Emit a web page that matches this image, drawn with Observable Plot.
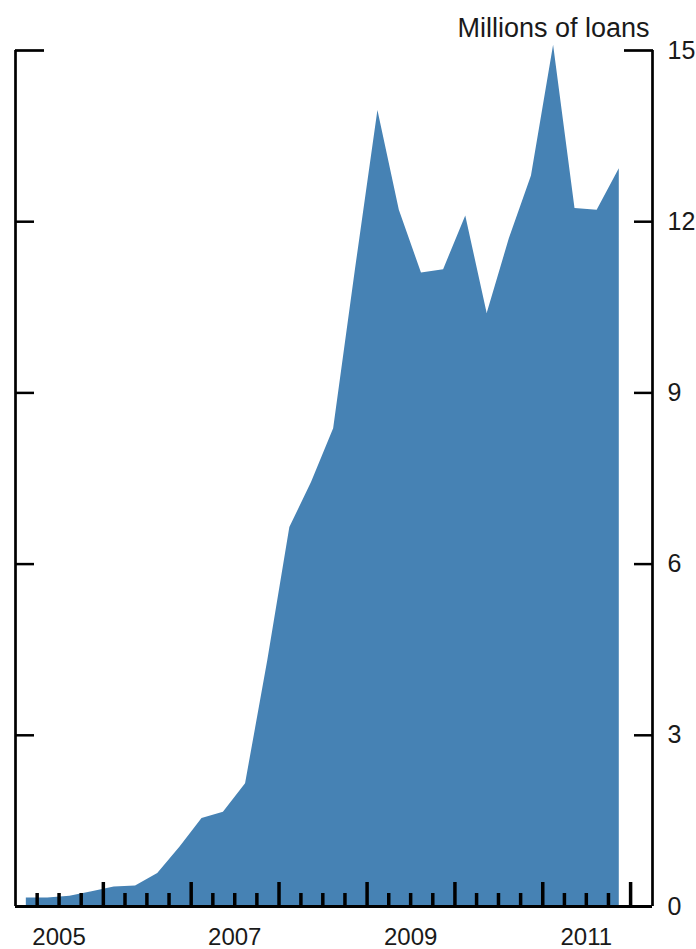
<!DOCTYPE html>
<html>
<head>
<meta charset="utf-8">
<script src="https://cdn.jsdelivr.net/npm/d3@7"></script>
<script src="https://cdn.jsdelivr.net/npm/@observablehq/plot@0.6"></script>
<style>
  body { margin: 0; background: #fff; }
  #chart svg { display: block; }
</style>
</head>
<body>
<div id="chart"></div>
<script>
// Quarterly data (plotted at mid-quarter)
const quarters = [
  "2005Q1","2005Q2","2005Q3","2005Q4",
  "2006Q1","2006Q2","2006Q3","2006Q4",
  "2007Q1","2007Q2","2007Q3","2007Q4",
  "2008Q1","2008Q2","2008Q3","2008Q4",
  "2009Q1","2009Q2","2009Q3","2009Q4",
  "2010Q1","2010Q2","2010Q3","2010Q4",
  "2011Q1","2011Q2","2011Q3","2011Q4"
];
const loans = [
  0.15, 0.15, 0.18, 0.26,
  0.34, 0.36, 0.58, 1.04,
  1.54, 1.65, 2.15, 4.30,
  6.64, 7.43, 8.37, 11.20,
  13.95, 12.20, 11.10, 11.16,
  12.10, 10.39, 11.70, 12.80,
  15.09, 12.23, 12.20, 12.93
];
const yTicks = [3, 6, 9, 12];
const yTopTick = [15];
const yLabels = [0, 3, 6, 9, 12, 15];
const majorTickYears = [2006, 2007, 2008, 2009, 2010, 2011, 2012];
const minorTickYears = [2005, 2006, 2007, 2008, 2009, 2010, 2011];
const labelYears = [2005, 2007, 2009, 2011];
const unitLabel = "Millions of loans";

const FONT = "'Liberation Sans', Arial, sans-serif";

function quarterMid(q) {
  const y = +q.slice(0, 4), n = +q.slice(5);
  return new Date(Date.UTC(y, (n - 1) * 3 + 1, 15));
}
const data = quarters.map((q, i) => ({date: quarterMid(q), value: loans[i]}));

const xDomain = [new Date(Date.UTC(2005, 0, 1)), new Date(Date.UTC(2012, 3, 1))];
const majorTicks = majorTickYears.map(y => new Date(Date.UTC(y, 0, 1)));
const minorTicks = minorTickYears.flatMap(y => [3, 6, 9].map(m => new Date(Date.UTC(y, m, 1))));
const labelTicks = labelYears.map(y => new Date(Date.UTC(y, 6, 1)));

const chart = Plot.plot({
  width: 696,
  height: 949,
  marginLeft: 15,
  marginRight: 44,
  marginTop: 50,
  marginBottom: 43,
  style: {fontFamily: FONT, background: "#fff", color: "#1a1a1a"},
  x: {type: "utc", domain: xDomain, axis: null},
  y: {domain: [0, 15], axis: null},
  marks: [
    Plot.areaY(data, {x: "date", y: "value", fill: "#4682b4", curve: "linear"}),
    // frame lines
    Plot.ruleX([xDomain[0], xDomain[1]], {stroke: "#000", strokeWidth: 2.7}),
    Plot.ruleY([0], {stroke: "#000", strokeWidth: 3}),
    // y ticks (inward)
    Plot.axisY({anchor: "left", ticks: yTicks, tickSize: -19, tickFormat: () => "", stroke: "#000", strokeWidth: 2.5, label: null}),
    Plot.axisY({anchor: "right", ticks: yTicks, tickSize: -19, tickFormat: () => "", stroke: "#000", strokeWidth: 2.5, label: null}),
    Plot.axisY({anchor: "left", ticks: yTopTick, tickSize: -29, tickFormat: () => "", stroke: "#000", strokeWidth: 2.7, label: null}),
    Plot.axisY({anchor: "right", ticks: yTopTick, tickSize: -29, tickFormat: () => "", stroke: "#000", strokeWidth: 2.7, label: null}),
    // y labels on right
    Plot.axisY({anchor: "right", ticks: yLabels, tickSize: 0, tickPadding: 15, tickFormat: d => String(d), fontSize: 25, fill: "#1a1a1a", label: null}),
    // x ticks (inward)
    Plot.axisX({anchor: "bottom", ticks: majorTicks, tickSize: -24, tickFormat: () => "", stroke: "#000", strokeWidth: 3.5, label: null}),
    Plot.axisX({anchor: "bottom", ticks: minorTicks, tickSize: -13, tickFormat: () => "", stroke: "#000", strokeWidth: 3.5, label: null}),
    // year labels centered within each year
    Plot.axisX({anchor: "bottom", ticks: labelTicks, tickSize: 0, tickPadding: 21, tickFormat: d => String(d.getUTCFullYear()), fontSize: 24, fill: "#1a1a1a", label: null}),
    // unit label
    Plot.text([unitLabel], {frameAnchor: "top-right", text: d => d, dx: -3, dy: -22, textAnchor: "end", lineAnchor: "middle", fontSize: 27, fill: "#1a1a1a"})
  ]
});

document.getElementById("chart").appendChild(chart);
</script>
</body>
</html>
